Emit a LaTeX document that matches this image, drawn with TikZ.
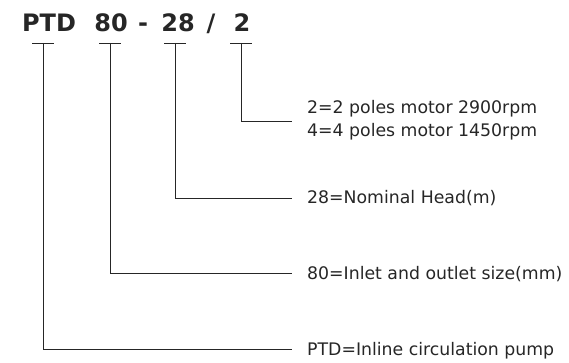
\documentclass[tikz,border=0pt]{standalone}
\usepackage{fontspec}
\setmainfont{DejaVu Sans}
\begin{document}
\begin{tikzpicture}[x=1pt,y=-1pt,
  code/.style={font=\fontsize{24}{24}\selectfont\bfseries, text=black!85, inner sep=0pt, anchor=base},
  desc/.style={font=\fontsize{17.3}{20}\selectfont, text=black!85, inner sep=0pt, anchor=base west},
  ln/.style={line width=0.8pt, black!85}]
\useasboundingbox (0,0) rectangle (569,363);
% title
\node[code] (tPTD) at (49,32) {PTD};
\node[code] (t80) at (111,32) {80};
\node[code] (tdash) at (143,32) {-};
\node[code] (t28) at (178,32) {28};
\node[code] (tsl) at (211,32) {/};
\node[code] (t2) at (242,32) {2};
% descriptions
\node[desc] (d2a) at (307,114) {2=2 poles motor 2900rpm};
\node[desc] (d2b) at (307,137) {4=4 poles motor 1450rpm};
\node[desc] (d28) at (307,204) {28=Nominal Head(m)};
\node[desc] (d80) at (307,279) {80=Inlet and outlet size(mm)};
\node[desc] (dP) at (307,355) {PTD=Inline circulation pump};
% bars
\foreach \n/\x in {P/43,e/110,t/175,w/241}{
  \coordinate (b\n) at (\x,43);
  \draw[ln] (\x-11,43) -- (\x+11,43);
}
\coordinate (eP) at (292,349);
\coordinate (ee) at (292,273);
\coordinate (et) at (292,198);
\coordinate (ew) at (292,121);
\draw[ln] (bP) |- (eP);
\draw[ln] (be) |- (ee);
\draw[ln] (bt) |- (et);
\draw[ln] (bw) |- (ew);
\end{tikzpicture}
\end{document}
